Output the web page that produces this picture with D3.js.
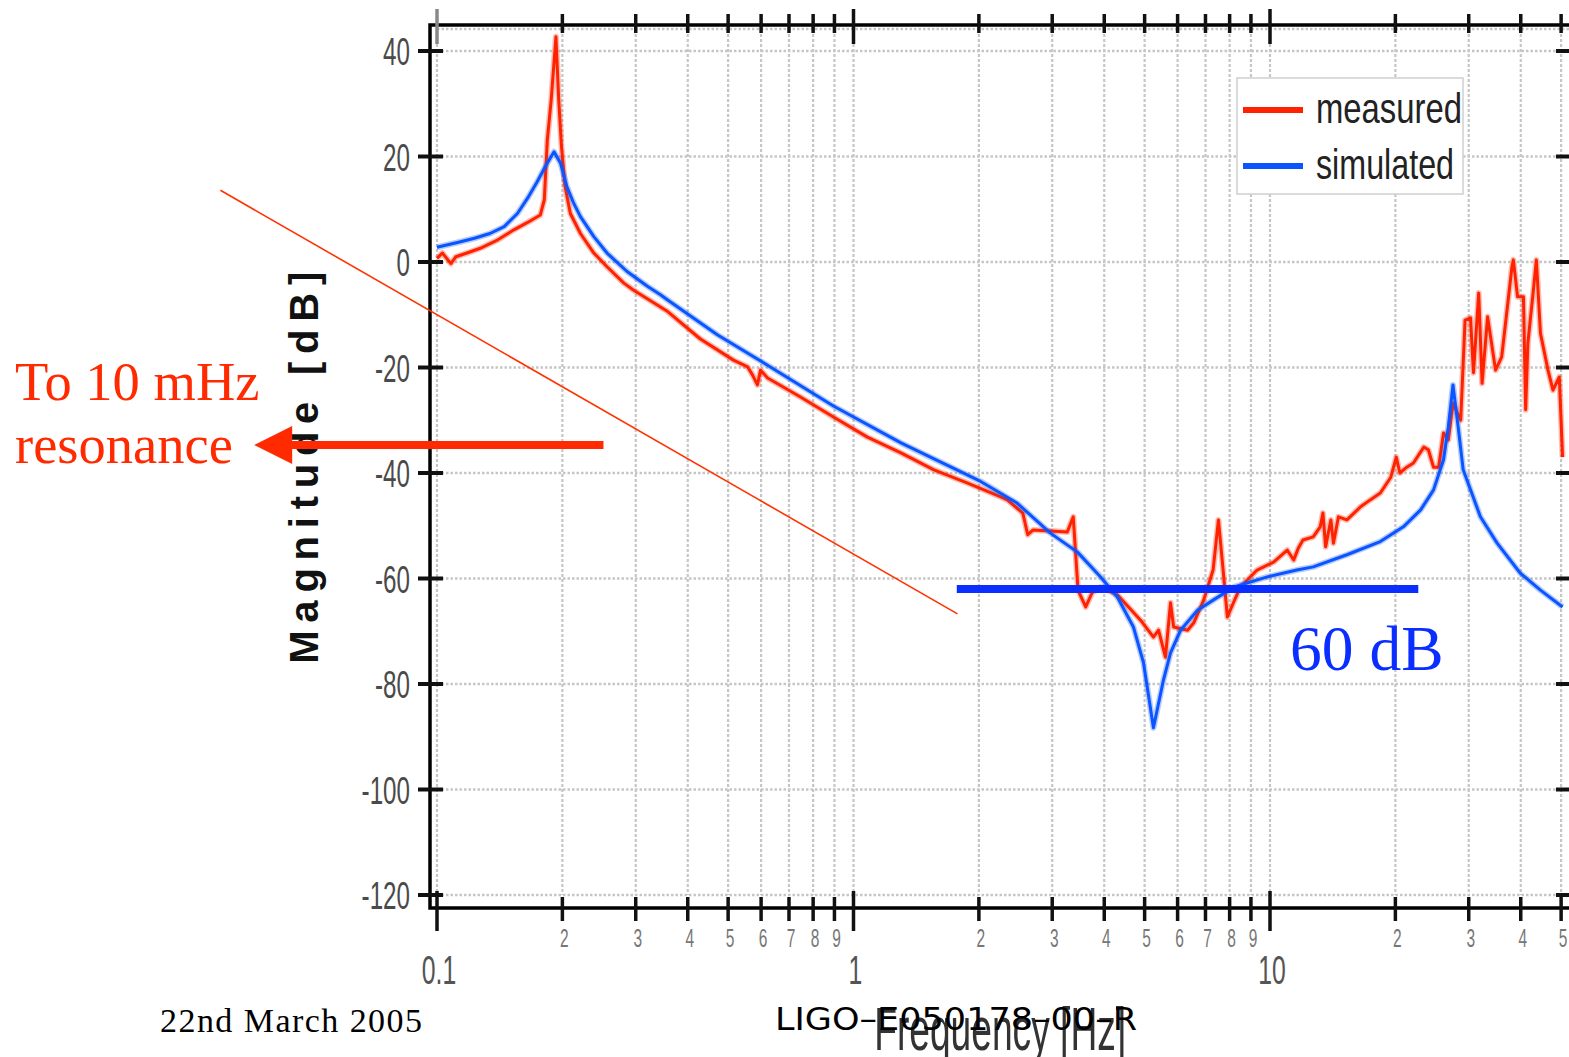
<!DOCTYPE html>
<html>
<head>
<meta charset="utf-8">
<script src="https://cdn.jsdelivr.net/npm/d3@7"></script>
<style>
  body { margin: 0; background: #fff; }
  svg { display: block; }
</style>
</head>
<body>
<div id="chart"></div>
<script>
// simulated transfer function (blue)
const simFreq = [0.1, 0.112, 0.123, 0.134, 0.145, 0.156, 0.165, 0.174, 0.182, 0.191, 0.198, 0.205, 0.213, 0.221, 0.238, 0.256, 0.286, 0.320, 0.344,
  0.358, 0.471, 0.608, 0.895, 1.30, 2.02, 2.47, 2.97, 3.45, 3.92, 4.30, 4.70, 4.97, 5.25, 5.55, 5.77, 6.10, 6.70, 7.30, 8.20, 9.85, 11.6,
  12.7, 15.3, 18.4, 20.9, 23.0, 24.7, 26.1, 26.8, 27.5, 28.3, 29.1, 32.0, 35.1, 39.9, 44.6, 50.4];
const simDb = [2.8, 3.7, 4.5, 5.4, 6.7, 9.2, 12.1, 15.2, 18.1, 20.9, 18.7, 14.3, 11.1, 8.6, 4.8, 1.7, -1.8, -4.6, -6.2,
  -7.2, -13.8, -19.1, -27.3, -34.3, -41.6, -45.7, -51.4, -55.0, -59.7, -63.5, -69.2, -76.0, -88.3, -79.2, -74.1, -69.8, -66.0, -64.1, -61.6, -59.7, -58.4,
  -57.8, -55.5, -53.0, -50.2, -47.0, -43.2, -37.5, -31.3, -23.3, -31.3, -39.4, -48.3, -53.3, -59.0, -62.2, -65.4];

// measured transfer function (red)
const measFreq = [0.1, 0.103, 0.108, 0.111, 0.118, 0.127, 0.140, 0.153, 0.165, 0.177, 0.181, 0.184, 0.188, 0.193, 0.196, 0.199, 0.203, 0.209, 0.221, 0.238, 0.256, 0.281, 0.296,
  0.358, 0.429, 0.515, 0.557, 0.572, 0.588, 0.598, 0.622, 0.746, 0.895, 1.08, 1.30, 1.56, 1.88, 2.25, 2.34, 2.55, 2.62, 2.70, 2.97, 3.26, 3.37, 3.46, 3.61, 3.74, 3.92,
  4.30, 4.89, 5.25, 5.40, 5.61, 5.77, 5.87, 6.34, 6.56, 6.93, 7.30, 7.52, 7.69, 7.90, 8.17, 8.49, 9.31, 10.2, 11.0, 11.4, 11.7,
  12.0, 12.7, 13.2, 13.4, 13.6, 14.0, 14.2, 14.6, 15.3, 16.5, 17.4, 18.4, 19.5, 20.1, 20.5, 21.3, 22.1, 23.4, 24.0, 24.7, 25.4, 26.1, 26.8, 27.5, 28.7,
  29.4, 30.3, 30.8, 31.7, 32.3, 33.3, 34.8, 36.0, 38.1, 38.4, 39.3, 40.6, 41.1, 41.6, 42.9, 43.6, 44.6, 46.5, 47.8, 49.5, 50.4];
const measDb = [0.7, 1.7, -0.3, 1.0, 1.7, 2.6, 4.2, 6.1, 7.5, 8.9, 11.8, 23.1, 30.7, 42.7, 30.7, 21.9, 14.3, 9.2, 5.4, 1.7, -0.9, -4.0, -5.3,
  -9.4, -14.6, -18.6, -19.9, -21.4, -23.3, -20.5, -22.0, -25.6, -29.4, -33.2, -36.2, -39.4, -41.9, -44.5, -45.1, -47.6, -51.7, -50.8, -51.0, -51.2, -48.3, -62.2, -65.4, -62.7, -61.6,
  -63.1, -67.9, -71.1, -69.8, -74.9, -64.6, -69.2, -69.8, -68.4, -64.1, -58.4, -48.9, -57.1, -67.3, -64.6, -61.6, -58.4, -56.9, -54.6, -56.5, -54.2,
  -52.7, -52.1, -50.2, -47.6, -54.0, -48.9, -53.3, -48.3, -48.9, -46.4, -45.1, -43.8, -40.8, -37.0, -40.0, -38.9, -38.1, -35.1, -35.6, -38.9, -38.9, -32.4, -33.7, -26.8, -30.0,
  -11.0, -10.6, -21.0, -5.9, -23.0, -10.4, -20.5, -18.0, -0.9, 0.4, -6.6, -6.6, -28.0, -15.4, -5.3, 0.4, -13.5, -20.5, -24.3, -21.8, -37.0];

// axis ticks
const yTicks = [40, 20, 0, -20, -40, -60, -80, -100, -120];
const xMajor = [0.1, 1, 10];
const xMajorLabels = ["0.1", "1", "10"];
const xMinor = [0.2, 0.3, 0.4, 0.5, 0.6, 0.7, 0.8, 0.9, 2, 3, 4, 5, 6, 7, 8, 9, 20, 30, 40, 50];
const xMinorLabels = ["2", "3", "4", "5", "6", "7", "8", "9", "2", "3", "4", "5", "6", "7", "8", "9", "2", "3", "4", "5"];

const seriesNames = ["measured", "simulated"];
const seriesColors = ["#ff2200", "#0a55ff"];

// slide annotations, in data units (Hz, dB)
const slantLine = [[0.0302, 13.6], [1.777, -66.7]];
const levelLine = [[1.77, -62], [22.7, -62]];
const arrowLine = [[0.251, -34.7], [0.0364, -34.7]];

const W = 1569, H = 1057;
const svg = d3.select('#chart').append('svg')
    .attr('width', W)
    .attr('height', H);

const x = d3.scaleLog().domain([0.1, 10]).range([437, 1270]);
const y = d3.scaleLinear().domain([-120, 40]).range([895, 51]);

const plotLeft = x(0.1), plotBottom = y(-120);
const plotTop = 29, plotRight = W;

// grid
const grid = svg.append('g').attr('stroke', '#c6c6c6').attr('fill', 'none');
grid.selectAll('.hgrid')
    .data(yTicks)
    .enter().append('line')
    .attr('x1', plotLeft).attr('x2', plotRight)
    .attr('y1', d => y(d)).attr('y2', d => y(d))
    .attr('stroke-width', 2.5)
    .attr('stroke-dasharray', '2.5,2');
grid.append('line')
    .attr('x1', plotLeft).attr('x2', plotRight).attr('y1', plotTop).attr('y2', plotTop)
    .attr('stroke-width', 2.5).attr('stroke-dasharray', '2.5,2');
grid.selectAll('.vgrid')
    .data(xMajor.concat(xMinor))
    .enter().append('line')
    .attr('x1', d => x(d)).attr('x2', d => x(d))
    .attr('y1', plotTop).attr('y2', plotBottom)
    .attr('stroke-width', 2.2)
    .attr('stroke-dasharray', '3,2');

// frame
svg.append('path')
    .attr('d', `M${plotRight},${plotTop - 4}H${plotLeft - 7}V${plotBottom + 13}H${plotRight}`)
    .attr('stroke', '#000')
    .attr('stroke-width', 3.5)
    .attr('fill', 'none');

// ticks
const ticks = svg.append('g').attr('stroke', '#111');
ticks.selectAll('.ytick')
    .data(yTicks)
    .enter().append('line')
    .attr('x1', plotLeft - 19).attr('x2', plotLeft + 6)
    .attr('y1', d => y(d)).attr('y2', d => y(d))
    .attr('stroke-width', 4);
ticks.selectAll('.ytickR')
    .data(yTicks)
    .enter().append('line')
    .attr('x1', plotRight - 13).attr('x2', plotRight)
    .attr('y1', d => y(d)).attr('y2', d => y(d))
    .attr('stroke-width', 4);
ticks.selectAll('.xtickT')
    .data(xMinor)
    .enter().append('line')
    .attr('x1', d => x(d)).attr('x2', d => x(d))
    .attr('y1', plotTop - 15).attr('y2', plotTop + 4)
    .attr('stroke-width', 3.5);
ticks.selectAll('.xtickTM')
    .data(xMajor)
    .enter().append('line')
    .attr('x1', d => x(d)).attr('x2', d => x(d))
    .attr('y1', plotTop - 20).attr('y2', plotTop + 15)
    .attr('stroke-width', 3.5)
    .attr('stroke', (d, i) => i === 0 ? '#888' : '#111');
ticks.selectAll('.xtickB')
    .data(xMinor)
    .enter().append('line')
    .attr('x1', d => x(d)).attr('x2', d => x(d))
    .attr('y1', plotBottom + 2).attr('y2', plotBottom + 26)
    .attr('stroke-width', 3.5);
ticks.selectAll('.xtickBM')
    .data(xMajor)
    .enter().append('line')
    .attr('x1', d => x(d)).attr('x2', d => x(d))
    .attr('y1', plotBottom - 4).attr('y2', plotBottom + 36)
    .attr('stroke-width', 3.5);

// tick labels (narrow face)
const lab = svg.append('g').attr('font-family', 'Liberation Sans, Arial, sans-serif');
lab.selectAll('.ylab')
    .data(yTicks)
    .enter().append('text')
    .attr('transform', d => `translate(${plotLeft - 27},${y(d) + 14}) scale(0.62,1)`)
    .attr('text-anchor', 'end')
    .attr('font-size', 39)
    .attr('fill', '#4a4a4a')
    .text(d => d);
lab.selectAll('.xminlab')
    .data(xMinor)
    .enter().append('text')
    .attr('transform', d => `translate(${x(d) + 2},${plotBottom + 52}) scale(0.62,1)`)
    .attr('text-anchor', 'middle')
    .attr('font-size', 25)
    .attr('fill', '#777')
    .text((d, i) => xMinorLabels[i]);
lab.selectAll('.xmajlab')
    .data(xMajor)
    .enter().append('text')
    .attr('transform', d => `translate(${x(d) + 2},${plotBottom + 89}) scale(0.62,1)`)
    .attr('text-anchor', 'middle')
    .attr('font-size', 40)
    .attr('fill', '#555')
    .text((d, i) => xMajorLabels[i]);

// axis titles
svg.append('text')
    .attr('transform', `translate(318,${y(-39)}) rotate(-90)`)
    .attr('text-anchor', 'middle')
    .attr('font-family', 'Liberation Sans, Arial, sans-serif')
    .attr('font-weight', 'bold')
    .attr('font-size', 40)
    .attr('textLength', 392)
    .attr('lengthAdjust', 'spacing')
    .attr('fill', '#111')
    .text('Magnitude [dB]');

svg.append('text')
    .attr('x', x(2.25))
    .attr('y', 1050)
    .attr('text-anchor', 'middle')
    .attr('font-family', 'Liberation Sans, Arial, sans-serif')
    .attr('font-size', 62)
    .attr('textLength', 252)
    .attr('lengthAdjust', 'spacingAndGlyphs')
    .attr('fill', '#333')
    .text('Frequency [Hz]');

// curves
const line = d3.line()
    .x(d => x(d[0]))
    .y(d => y(d[1]));

const measured = measFreq.map((f, i) => [f, measDb[i]]);
const simulated = simFreq.map((f, i) => [f, simDb[i]]);

[measured, simulated].forEach((data, i) => {
    svg.append('path')
        .datum(data)
        .attr('d', line)
        .attr('fill', 'none')
        .attr('stroke', seriesColors[i])
        .attr('stroke-opacity', 0.3)
        .attr('stroke-width', 6)
        .attr('stroke-linejoin', 'round');
    svg.append('path')
        .datum(data)
        .attr('d', line)
        .attr('fill', 'none')
        .attr('stroke', seriesColors[i])
        .attr('stroke-width', 3)
        .attr('stroke-linejoin', 'round');
});

// legend
const legend = svg.append('g');
legend.append('rect')
    .attr('x', 1237).attr('y', 78)
    .attr('width', 226).attr('height', 116)
    .attr('fill', '#fff')
    .attr('stroke', '#cfcfcf')
    .attr('stroke-width', 1.5);
seriesNames.forEach((name, i) => {
    const ly = 110 + i * 56;
    legend.append('line')
        .attr('x1', 1243).attr('x2', 1303)
        .attr('y1', ly).attr('y2', ly)
        .attr('stroke', seriesColors[i])
        .attr('stroke-width', 6);
    legend.append('text')
        .attr('x', 1316).attr('y', ly + 13)
        .attr('font-family', 'Liberation Sans, Arial, sans-serif')
        .attr('font-size', 42)
        .attr('textLength', i === 0 ? 146 : 138)
        .attr('lengthAdjust', 'spacingAndGlyphs')
        .attr('fill', '#222')
        .text(name);
});

// annotations
const ann = d3.line().x(d => x(d[0])).y(d => y(d[1]));
svg.append('path')
    .datum(slantLine)
    .attr('d', ann)
    .attr('stroke', '#ff3300')
    .attr('stroke-width', 1.6)
    .attr('fill', 'none');

svg.append('path')
    .datum(levelLine)
    .attr('d', ann)
    .attr('stroke', '#0a2eff')
    .attr('stroke-width', 8)
    .attr('fill', 'none');

const ax0 = x(arrowLine[0][0]), ax1 = x(arrowLine[1][0]), ay = y(arrowLine[0][1]);
svg.append('line')
    .attr('x1', ax0).attr('x2', ax1 + 35)
    .attr('y1', ay).attr('y2', ay)
    .attr('stroke', '#ff2a00')
    .attr('stroke-width', 8);
svg.append('path')
    .attr('d', `M${ax1},${ay}L${ax1 + 38},${ay - 19}L${ax1 + 38},${ay + 19}Z`)
    .attr('fill', '#ff2a00');

svg.append('text')
    .attr('x', 15).attr('y', 400)
    .attr('font-family', 'Liberation Serif, Times New Roman, serif')
    .attr('font-size', 54.5)
    .attr('fill', '#ff2a00')
    .text('To 10 mHz');
svg.append('text')
    .attr('x', 15).attr('y', 463)
    .attr('font-family', 'Liberation Serif, Times New Roman, serif')
    .attr('font-size', 54.5)
    .attr('fill', '#ff2a00')
    .text('resonance');

svg.append('text')
    .attr('x', 1290).attr('y', 670)
    .attr('font-family', 'Liberation Serif, Times New Roman, serif')
    .attr('font-size', 63.5)
    .attr('fill', '#0a2eff')
    .text('60 dB');

// slide footer
svg.append('text')
    .attr('x', 160).attr('y', 1032)
    .attr('font-family', 'Liberation Serif, Times New Roman, serif')
    .attr('font-size', 34)
    .attr('textLength', 262)
    .attr('fill', '#000')
    .text('22nd March 2005');
svg.append('text')
    .attr('x', 775).attr('y', 1030)
    .attr('font-family', 'DejaVu Sans, sans-serif')
    .attr('font-size', 32)
    .attr('textLength', 362)
    .attr('lengthAdjust', 'spacingAndGlyphs')
    .attr('fill', '#000')
    .text('LIGO\u2013E050178\u201300\u2013R');
</script>
</body>
</html>
